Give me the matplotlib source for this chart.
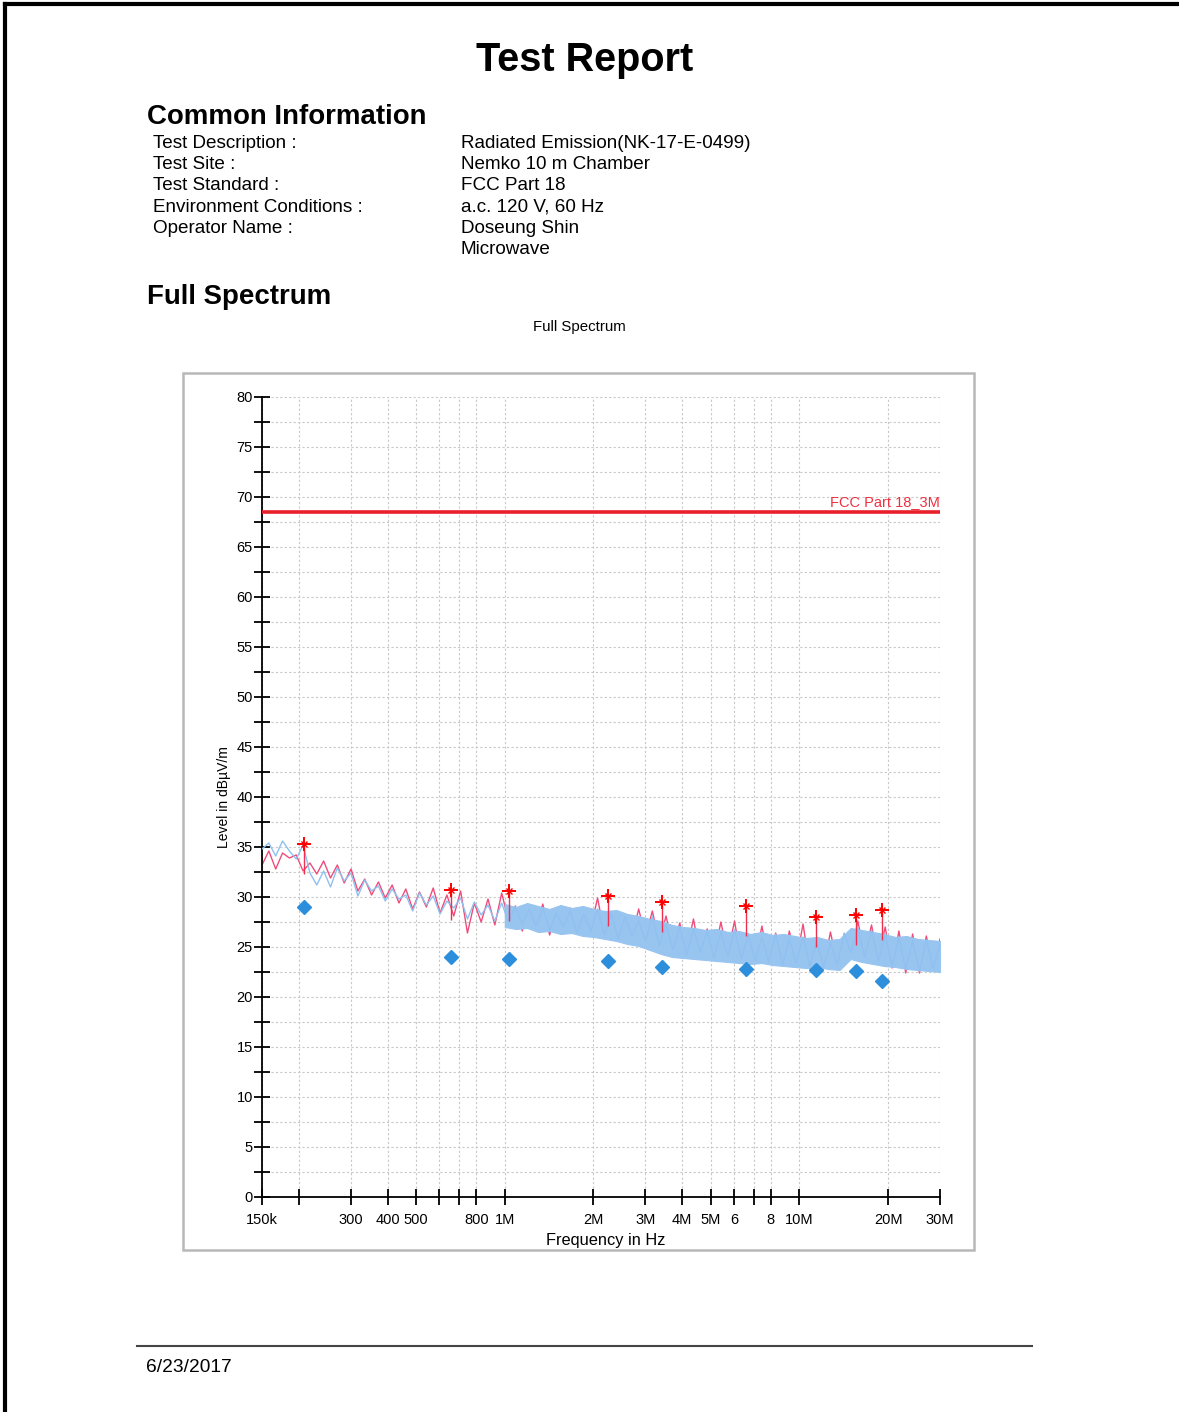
import matplotlib.pyplot as plt
import numpy as np
from matplotlib.lines import Line2D
from matplotlib.patches import Rectangle

plt.rcParams['font.family'] = ['Liberation Sans', 'DejaVu Sans']

W, H = 1179, 1412

# header info
info_keys = ["Test Description :", "Test Site :", "Test Standard :",
             "Environment Conditions :", "Operator Name :"]
info_vals = ["Radiated Emission(NK-17-E-0499)", "Nemko 10 m Chamber", "FCC Part 18",
             "a.c. 120 V, 60 Hz", "Doseung Shin", "Microwave"]

# x ticks (Hz) and labels
xticks = [150e3, 200e3, 300e3, 400e3, 500e3, 600e3, 700e3, 800e3, 1e6,
          2e6, 3e6, 4e6, 5e6, 6e6, 7e6, 8e6, 10e6, 20e6, 30e6]
xlabels = ["150k", "", "300", "400", "500", "", "", "800", "1M",
           "2M", "3M", "4M", "5M", "6", "", "8", "10M", "20M", "30M"]

limit_level = 68.5
limit_name = "FCC Part 18_3M"

# spectrum traces (100 log-spaced points, 150k..30M)
pink = [
    33.2, 34.6, 32.8, 34.4, 33.9, 34.2, 32.6, 33.4, 32.3, 33.6,
    31.9, 33.2, 31.4, 32.8, 30.6, 31.8, 30.2, 31.5, 29.9, 31.2,
    29.4, 30.8, 28.8, 30.5, 29.0, 30.9, 28.4, 30.2, 28.1, 30.6,
    26.4, 29.4, 27.5, 29.8, 27.2, 30.4, 27.6, 29.1, 26.6, 28.9,
    26.9, 29.3, 26.2, 28.7, 26.8, 28.9, 26.5, 28.4, 26.9, 29.9,
    26.3, 28.5, 25.6, 28.2, 25.9, 28.8, 26.0, 28.6, 25.4, 28.1,
    24.8, 27.4, 24.6, 27.8, 24.1, 26.8, 24.0, 27.5, 24.3, 27.6,
    23.5, 26.3, 23.6, 27.1, 23.3, 26.4, 23.2, 26.6, 23.5, 27.3,
    22.8, 25.8, 22.8, 26.5, 23.3, 26.0, 23.9, 27.6, 24.2, 27.2,
    23.8, 27.0, 22.9, 26.6, 22.4, 26.3, 22.4, 26.1, 22.8, 25.8,
]
blue = [
    34.8, 35.4, 34.1, 35.6, 34.6, 33.8, 35.2, 32.4, 31.2, 32.6,
    31.0, 32.9, 31.6, 32.4, 30.1, 31.7, 30.6, 31.1, 29.6, 30.8,
    29.8, 30.2, 28.6, 30.4, 29.2, 30.1, 28.3, 29.6, 28.9, 29.9,
    27.8, 29.5, 28.2, 29.2, 27.6, 29.4, 27.5, 29.0, 27.3, 28.8,
    27.1, 28.9, 26.7, 28.4, 27.0, 28.6, 26.4, 28.3, 26.6, 28.8,
    26.2, 28.4, 25.8, 28.0, 26.1, 27.6, 25.6, 28.1, 25.1, 27.3,
    24.7, 27.0, 24.2, 26.8, 24.5, 26.6, 23.9, 26.5, 24.1, 26.7,
    23.8, 26.2, 23.7, 26.0, 23.5, 26.3, 23.2, 25.8, 23.4, 26.0,
    23.1, 25.6, 23.0, 25.5, 23.2, 26.4, 24.4, 26.9, 24.0, 26.7,
    23.6, 26.2, 23.1, 25.9, 22.8, 25.6, 22.6, 25.7, 22.9, 25.2,
]
trace_f = np.geomspace(150e3, 30e6, len(pink))

# dense blue band envelope (40 log-spaced points, 1M..30M)
band_hi = [29.3, 29.0, 29.4, 29.1, 28.8, 29.2, 28.9, 29.1, 28.8, 28.6,
           28.7, 28.3, 28.1, 27.8, 27.6, 27.2, 27.0, 26.9, 26.7, 26.8,
           26.5, 26.6, 26.3, 26.5, 26.2, 26.3, 26.1, 25.9, 26.0, 25.7,
           25.8, 26.9, 26.7, 26.5, 26.3, 26.0, 26.1, 25.8, 25.7, 25.6]
band_lo = [27.0, 26.8, 26.9, 26.5, 26.6, 26.3, 26.4, 26.1, 26.0, 25.8,
           25.6, 25.3, 25.1, 24.7, 24.3, 24.0, 23.9, 23.8, 23.7, 23.6,
           23.5, 23.4, 23.3, 23.4, 23.2, 23.1, 23.0, 22.9, 23.0, 22.8,
           22.7, 23.8, 23.5, 23.3, 23.1, 23.0, 22.8, 22.7, 22.6, 22.5]
band_f = np.geomspace(1e6, 30e6, len(band_hi))

# peak (stars) and quasi-peak (diamonds)
peak_f = [208e3, 657e3, 1.03e6, 2.24e6, 3.42e6, 6.59e6, 11.4e6, 15.6e6, 19.1e6]
peak_lv = [35.3, 30.7, 30.6, 30.1, 29.5, 29.1, 28.0, 28.2, 28.7]
qp_lv = [29.0, 24.0, 23.8, 23.6, 23.0, 22.8, 22.7, 22.6, 21.6]


def px(x, y):
    return x / W, 1 - y / H


fig = plt.figure(figsize=(W / 100, H / 100), dpi=100)

# page border
fig.add_artist(Line2D([px(5, 0)[0], 1], [px(0, 4)[1]] * 2, color='black', lw=3))
fig.add_artist(Line2D([px(5, 0)[0]] * 2, [0, px(0, 4)[1]], color='black', lw=3))

fig.text(*px(585, 60), "Test Report", fontsize=28.5, fontweight='bold', ha='center', va='center')
fig.text(*px(147, 117), "Common Information", fontsize=19.9, fontweight='bold', va='center')
for i, k in enumerate(info_keys):
    fig.text(*px(153, 143 + 21.4 * i), k, fontsize=13.6, va='center')
for i, v in enumerate(info_vals):
    fig.text(*px(461, 143 + 21.4 * i), v, fontsize=13.6, va='center')
fig.text(*px(147, 297), "Full Spectrum", fontsize=19.9, fontweight='bold', va='center')
fig.text(*px(579, 327), "Full Spectrum", fontsize=10.8, ha='center', va='center')

# chart frame
x0, y0 = px(183, 1250)
x1, y1 = px(974, 373)
fig.add_artist(Rectangle((x0, y0), x1 - x0, y1 - y0, transform=fig.transFigure,
                         fill=False, edgecolor='#b8b8b8', lw=1.8))

# footer
fig.add_artist(Line2D([px(137, 0)[0], px(1032, 0)[0]], [px(0, 1346)[1]] * 2,
                      color='#444444', lw=1.5))
fig.text(*px(146, 1368), "6/23/2017", fontsize=13.8, va='center')

l, b = px(262, 1197)
r, t = px(940, 397)
ax = fig.add_axes([l, b, r - l, t - b])
ax.set_xscale('log')
ax.set_xlim(150e3, 30e6)
ax.set_ylim(0, 80)

ax.plot(trace_f, pink, color='#ee4d7c', lw=1.0, zorder=2)
ax.fill_between(band_f, band_lo, band_hi, color='#98c5f0', lw=0.8,
                edgecolor='#98c5f0', zorder=3)
ax.plot(trace_f, blue, color='#8fc0f0', lw=1.0, zorder=4)
ax.vlines(peak_f, np.array(peak_lv) - 3.0, peak_lv, color='#ee3050', lw=1.0, zorder=4)
ax.plot(peak_f, peak_lv, '+', color='red', ms=10, mew=1.4, zorder=6)
ax.plot(peak_f, peak_lv, 'x', color='red', ms=5, mew=1.0, zorder=6)
ax.plot(peak_f, qp_lv, 'D', color='#2d8fdc', ms=7.5, mec='#2d8fdc', zorder=6)

ax.axhline(limit_level, color='#e8202a', lw=2.6, zorder=5)
ax.text(30e6, limit_level + 0.3, limit_name, color='#ee3040', fontsize=10.5,
        ha='right', va='bottom')

ax.set_xticks(xticks)
ax.set_xticklabels(xlabels)
ax.xaxis.set_minor_locator(plt.NullLocator())
ax.set_yticks(np.arange(0, 81, 5))
ax.set_yticks(np.arange(0, 81, 2.5), minor=True)
ax.tick_params(axis='both', which='both', direction='inout', length=11, width=1.3,
               labelsize=10.5, colors='black')
ax.tick_params(axis='x', pad=6)
ax.tick_params(axis='y', pad=1)
ax.grid(True, which='both', color='#c8c8c8', linestyle=(0, (2, 2)), lw=0.8)
for s in ['top', 'right']:
    ax.spines[s].set_visible(False)
for s in ['left', 'bottom']:
    ax.spines[s].set_linewidth(1.3)

ax.set_xlabel("Frequency in Hz", fontsize=11.8)
ax.xaxis.set_label_coords(0.507, -0.045)
ax.set_ylabel("Level in dB\u00b5V/m", fontsize=10, labelpad=4)

fig.savefig("out.png", dpi=100)
